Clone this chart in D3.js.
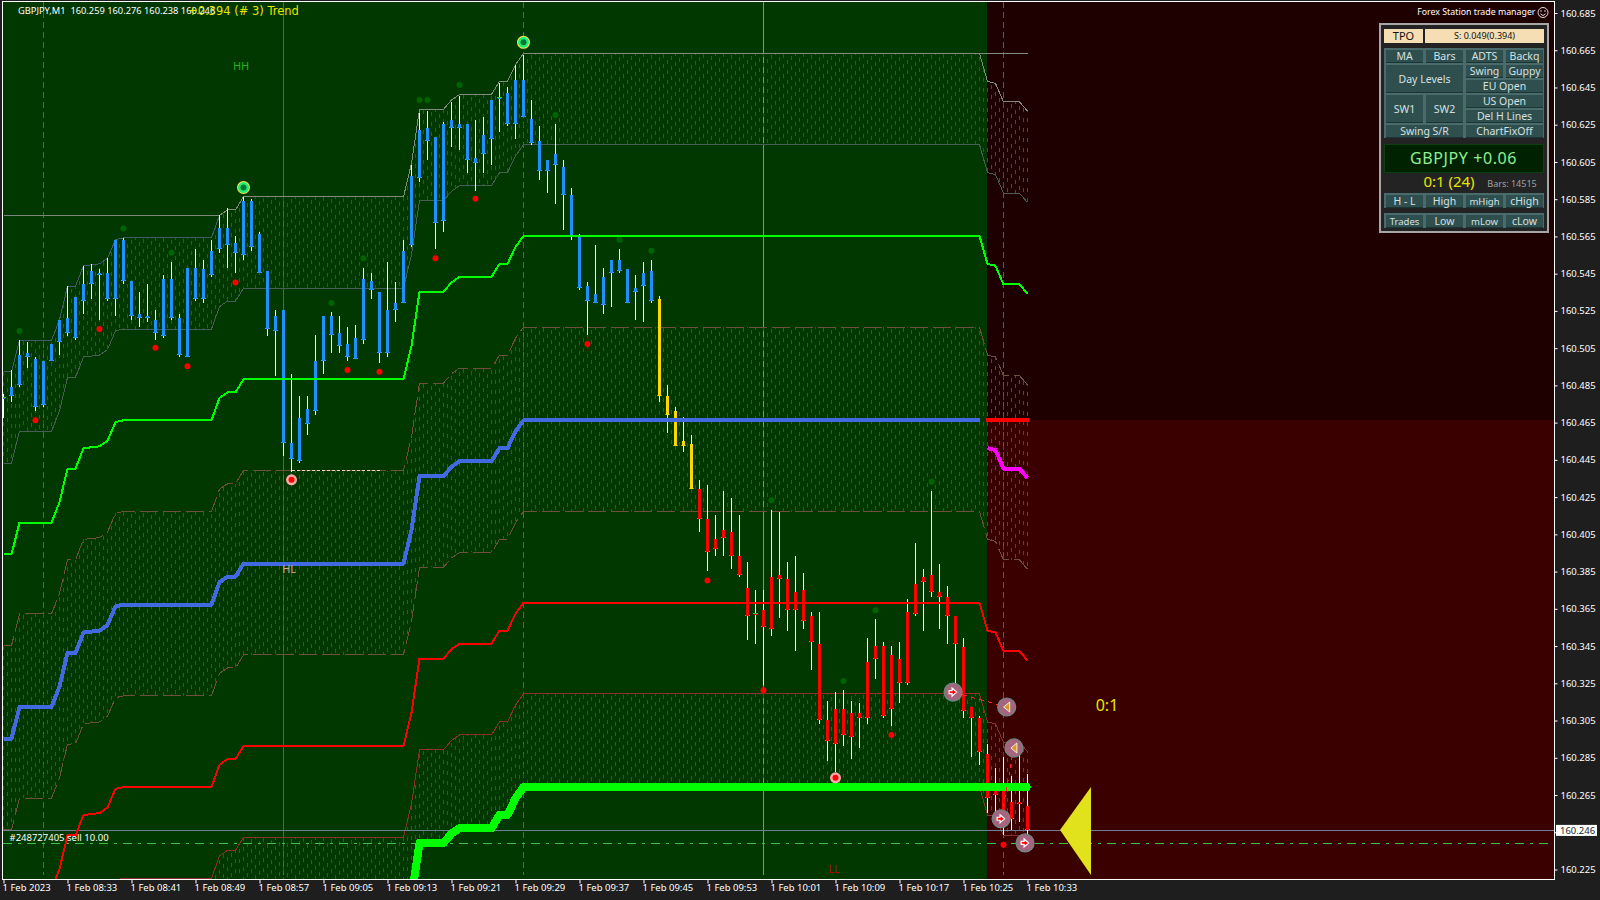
<!DOCTYPE html>
<html>
<head>
<meta charset="utf-8">
<title>GBPJPY,M1</title>
<script src="https://cdn.jsdelivr.net/npm/d3@7"></script>
<style>
    html, body { margin: 0; padding: 0; background: #1e1e1e; overflow: hidden; }
    text { font-family: "Noto Sans", sans-serif; }
</style>
</head>
<body>
<div id="chart"></div>
<script>
// all quotes are kept as thousandths above 160.000, so 466 means 160.466
const priceBase = 160;

const opens = [
    478,484,501,502,499,498,507,520,521,532,
    539,546,545,545,563,563,541,523,522,520,
    542,542,521,548,548,547,557,569,569,561,
    584,584,566,546,522,525,454,467,472,498,
    522,522,513,507,510,542,541,535,525,529,
    557,597,622,623,618,625,627,625,625,607,
    619,638,639,642,649,649,628,616,606,609,
    602,587,565,538,534,543,552,552,547,537,
    545,546,531,479,471,455,453,429,413,402,
    407,406,393,376,362,364,382,383,381,374,
    375,361,346,305,311,311,309,309,336,345,
    345,340,338,363,378,382,383,374,371,361,
    344,312,306,287,267,267,261,261,259];
const highs = [
    480,493,509,508,500,498,507,520,538,532,
    549,550,547,553,563,564,541,535,539,525,
    544,551,523,548,558,552,563,576,580,565,
    586,585,567,546,525,525,491,479,479,512,
    522,524,522,516,517,548,545,535,551,540,
    563,603,631,632,618,626,637,640,625,627,
    629,638,647,645,657,662,638,624,606,625,
    606,591,566,540,560,548,552,558,547,544,
    551,552,533,485,473,468,458,434,431,415,
    428,424,415,390,375,375,418,417,390,393,
    384,363,363,315,320,321,315,314,349,359,
    347,345,347,370,400,386,428,389,377,361,
    349,312,307,292,279,285,275,287,276];
const lows = [
    467,476,484,494,471,473,498,501,511,509,
    523,531,520,530,522,539,520,516,519,509,
    510,520,500,500,530,529,543,556,548,545,
    552,557,545,511,490,447,438,443,458,469,
    491,502,502,498,499,507,531,497,500,519,
    529,559,594,606,558,567,613,611,599,589,
    599,603,621,624,617,629,614,595,588,582,
    568,563,536,512,529,523,527,545,529,520,
    519,529,476,459,452,449,429,406,385,393,
    393,386,382,348,346,324,350,360,353,342,
    354,332,303,283,277,291,284,290,303,327,
    306,302,314,324,361,353,371,354,346,318,
    306,285,281,255,254,243,246,250,238];
const closes = [
    478,479,485,500,473,474,498,508,513,510,
    530,539,544,531,531,541,522,521,521,513,
    511,521,501,500,531,531,544,558,560,556,
    555,559,545,515,514,454,445,444,464,471,
    498,512,506,500,499,509,536,502,502,525,
    529,560,596,616,572,573,623,623,606,604,
    609,617,639,625,625,629,615,600,600,603,
    587,565,537,530,529,528,545,546,529,535,
    538,530,479,469,452,452,429,413,395,397,
    403,393,383,361,362,355,354,381,364,364,
    358,347,305,294,292,297,296,306,306,338,
    307,311,325,325,362,379,374,371,361,346,
    310,306,288,263,265,248,252,260,246];
const lastBlueBar = 81;
const lastYellowBar = 86;

// the step lines only change at these bars
const levelBars = [0,1,2,6,7,8,9,10,12,13,14,15,26,27,28,29,30,50,51,52,55,56,57,61,62,63,64,65,122,123,124,125,126,127,128];
const levelGrayTop = [492,492,509,509,520,538,538,549,550,553,563,564,564,576,579,579,586,586,604,633,633,638,641,641,648,648,657,663,663,648,647,637,637,637,632];
const levelGrayBottom = [443,443,460,460,471,489,489,500,501,504,514,515,515,527,530,530,537,537,555,584,584,589,592,592,599,599,608,614,614,599,598,588,588,588,583];
const levelGreen = [394,394,411,411,422,440,440,451,452,455,465,466,466,478,481,481,488,488,506,535,535,540,543,543,550,550,559,565,565,550,549,539,539,539,534];
const levelBrownTop = [345,345,362,362,373,391,391,402,403,406,416,417,417,429,432,432,439,439,457,486,486,491,494,494,501,501,510,516,516,501,500,490,490,490,485];
const levelMid = [295,295,312,312,323,341,341,352,353,356,366,367,367,379,382,382,389,389,407,436,436,441,444,444,451,451,460,466,466,451,450,440,440,440,435];
const levelBrownBottom = [246,246,263,263,274,292,292,303,304,307,317,318,318,330,333,333,340,340,358,387,387,392,395,395,402,402,411,417,417,402,401,391,391,391,386];
const levelRed = [197,197,214,214,225,243,243,254,255,258,268,269,269,281,284,284,291,291,309,338,338,343,346,346,353,353,362,368,368,353,352,342,342,342,337];
const levelRedTop = [148,148,165,165,176,194,194,205,206,209,219,220,220,232,235,235,242,242,260,289,289,294,297,297,304,304,313,319,319,304,303,293,293,293,288];
const levelLime = [98,98,115,115,126,144,144,155,156,159,169,170,170,182,185,185,192,192,210,239,239,244,247,247,254,254,263,269,269,254,253,243,243,243,238];

const highDotBars = [2,15,21,41,45,52,53,57,69,77,81,96,105,109,116];
const highDotPrices = [514,569,556,529,553,638,638,646,630,563,557,423,326,364,433];
const lowDotBars = [4,12,19,23,29,43,47,54,59,73,88,95,111,125];
const lowDotPrices = [466,515,505,495,540,493,492,553,585,507,380,321,297,238];

const swingHighBars = [30,65];
const swingHighPrices = [591,669];
const swingLowBars = [36,104];
const swingLowPrices = [434,274];

const tradeBars = [118.7,125.4,126.3,124.7,127.7];
const tradePrices = [320,312,290,252,239];
const tradeKinds = ["open","close","close","open","open"];

const swingLabels = ["HH","HL","LL"];
const swingLabelBars = [29.7,35.7,103.8];
const swingLabelPrices = [656,386,225];
const swingLabelColors = ["#22b322","#d8a890","#c80000"];

const periodBars = [5,35,65,95,125];
const periodColors = ["#3f6f55","#3f6f55","#3f6f55","#b8862b","#3f6464"];
const periodDashes = ["6 4",null,"6 4",null,"6 4"];

const priceTicks = [685,665,645,625,605,585,565,545,525,505,485,465,445,425,405,385,365,345,325,305,285,265,245,225];
const timeTickBars = [0,8,16,24,32,40,48,56,64,72,80,88,96,104,112,120,128];
const timeTickLabels = ["1 Feb 2023","1 Feb 08:33","1 Feb 08:41","1 Feb 08:49","1 Feb 08:57","1 Feb 09:05","1 Feb 09:13","1 Feb 09:21","1 Feb 09:29","1 Feb 09:37","1 Feb 09:45","1 Feb 09:53","1 Feb 10:01","1 Feb 10:09","1 Feb 10:17","1 Feb 10:25","1 Feb 10:33"];

const bidPrice = 246;
const sellPrice = 239;
const prevHigh = 576;
const swingLowLevel = 439;
const splitPrice = 466;

const width = 1600;
const height = 900;
const plot = { left: 3, right: 1554, top: 2, bottom: 879 };
const sessionEnd = 987;

const colors = {
    page: "#1e1e1e",
    session: "#003800",
    upper: "#1f0000",
    lower: "#3a0000",
    gray: "#31504f",
    brown: "#5a4630",
    red: "#8e2a2a",
};
const dashShift = [0,4,8,2,6,9,3,7,1,5];

const x = d3.scaleLinear().domain([0, 128]).range([3.5, 1027.5]);
const y = d3.scaleLinear().domain([225, 685]).range([869, 12.5]);

const svg = d3.select("#chart").append("svg")
    .attr("width", width)
    .attr("height", height)
    .style("display", "block");

svg.append("clipPath").attr("id", "plot-clip")
    .append("rect")
    .attr("x", plot.left).attr("y", plot.top)
    .attr("width", plot.right - plot.left).attr("height", plot.bottom - plot.top);

const gPlot = svg.append("g").attr("clip-path", "url(#plot-clip)");

// backgrounds
gPlot.append("rect").attr("x", plot.left).attr("y", plot.top).attr("width", plot.right - plot.left).attr("height", Math.round(y(splitPrice)) - plot.top).attr("fill", colors.upper);
gPlot.append("rect").attr("x", plot.left).attr("y", Math.round(y(splitPrice))).attr("width", plot.right - plot.left).attr("height", plot.bottom - Math.round(y(splitPrice))).attr("fill", colors.lower);
gPlot.append("rect").attr("x", plot.left).attr("y", plot.top).attr("width", sessionEnd - plot.left).attr("height", plot.bottom - plot.top).attr("fill", colors.session);

// half hour separators
gPlot.selectAll(".period-line")
    .data(periodBars)
    .enter()
    .append("line")
    .attr("class", "period-line")
    .attr("x1", d => x(d)).attr("x2", d => x(d))
    .attr("y1", plot.top).attr("y2", plot.bottom - 4)
    .attr("stroke", (_, i) => periodColors[i])
    .attr("stroke-dasharray", (_, i) => periodDashes[i])
    .attr("shape-rendering", "crispEdges");

function levelLine(bars, values, color, lineWidth, dash) {
    const line = d3.line().x((_, i) => x(bars[i])).y(d => y(d));
    return gPlot.append("path")
        .datum(values)
        .attr("d", line)
        .attr("fill", "none")
        .attr("stroke", color)
        .attr("stroke-width", lineWidth)
        .attr("stroke-dasharray", dash || null)
        .attr("stroke-linejoin", "round")
        .attr("shape-rendering", "crispEdges");
}

// the dotted zones: a dashed column on every bar and between bars
function levelBand(topValues, bottomValues, color, cls) {
    const topAt = d3.scaleLinear().domain(levelBars).range(topValues);
    const bottomAt = d3.scaleLinear().domain(levelBars).range(bottomValues);
    gPlot.selectAll("." + cls)
        .data(d3.range(0, 128.5, 0.5))
        .enter()
        .append("line")
        .attr("class", cls)
        .attr("x1", d => Math.floor(x(d)) + 0.5).attr("x2", d => Math.floor(x(d)) + 0.5)
        .attr("y1", d => y(topAt(d))).attr("y2", d => y(bottomAt(d)))
        .attr("stroke", color)
        .attr("stroke-dasharray", "4 6")
        .attr("stroke-dashoffset", d => dashShift[(d * 2) % dashShift.length])
        .attr("shape-rendering", "crispEdges");
}

levelBand(levelGrayTop, levelGrayBottom, colors.gray, "band-gray");
levelBand(levelBrownTop, levelBrownBottom, colors.brown, "band-brown");
levelBand(levelRedTop, levelLime, colors.red, "band-red");

// band outlines
levelLine(levelBars.slice(0, 14), levelGrayTop.slice(0, 14), "#46596a", 1);
levelLine(levelBars.slice(13), levelGrayTop.slice(13), "#808a80", 1);
levelLine([0, 27], [prevHigh, prevHigh], "#7c857c", 1);
levelLine([65, 128], [663, 663], "#808a80", 1);
levelLine(levelBars, levelGrayBottom, "#485c58", 1);
levelLine(levelBars, levelBrownTop, "#6d5040", 1, "18 5");
levelLine(levelBars, levelBrownBottom, "#6d5040", 1, "18 5");
levelLine(levelBars, levelRedTop, "#8b2f2f", 1);
levelLine(levelBars.slice(28), levelLime.slice(28), "#8b2f2f", 1);

levelLine([36, 47], [swingLowLevel, swingLowLevel], "#f0d4c4", 1, "3 2");

// bid and open trade lines
gPlot.append("line").attr("x1", plot.left).attr("x2", plot.right).attr("y1", Math.round(y(bidPrice)) + 0.5).attr("y2", Math.round(y(bidPrice)) + 0.5)
    .attr("stroke", "#708090").attr("shape-rendering", "crispEdges");
gPlot.append("line").attr("x1", plot.left).attr("x2", plot.right).attr("y1", Math.round(y(sellPrice)) + 0.5).attr("y2", Math.round(y(sellPrice)) + 0.5)
    .attr("stroke", "#3cc23c").attr("stroke-dasharray", "9 6 3 6").attr("shape-rendering", "crispEdges");

// candles
const candleColor = i => i <= lastBlueBar ? "#1e90ff" : i <= lastYellowBar ? "#ffd700" : "#ff0000";
const gCandles = gPlot.append("g").attr("shape-rendering", "crispEdges");

gCandles.selectAll(".wick")
    .data(opens)
    .enter()
    .append("rect")
    .attr("class", "wick")
    .attr("x", (_, i) => x(i) - 0.5)
    .attr("y", (_, i) => y(highs[i]))
    .attr("width", 1)
    .attr("height", (_, i) => y(lows[i]) - y(highs[i]))
    .attr("fill", "#fff");

gCandles.selectAll(".close-tick")
    .data(closes)
    .enter()
    .append("rect")
    .attr("class", "close-tick")
    .attr("x", (_, i) => x(i) - 2.5)
    .attr("y", d => y(d) - 1)
    .attr("width", 5)
    .attr("height", 1)
    .attr("fill", "#33cc33");

gCandles.selectAll(".body")
    .data(opens)
    .enter()
    .append("rect")
    .attr("class", "body")
    .attr("x", (_, i) => x(i) - 1.5)
    .attr("y", d => y(d))
    .attr("width", 3)
    .attr("height", (d, i) => Math.max(1, y(closes[i]) - y(d)))
    .attr("fill", (_, i) => candleColor(i));

// step levels on top of the candles
const solidBars = levelBars.slice(0, 29);
levelLine(levelBars, levelGreen, "#00ff00", 2);
levelLine(levelBars, levelRed, "#ff0000", 2);
levelLine(solidBars, levelMid.slice(0, 29), "#4169e1", 4);
levelLine(levelBars.slice(29), levelMid.slice(29), "#ff00ff", 4);
levelLine([122.8, 128.2], [splitPrice, splitPrice], "#ff0000", 4);
levelLine(solidBars.concat([127.9]), levelLime.slice(0, 29).concat([269]), "#00ff00", 8).attr("stroke-linecap", "round");

// swing dots
gPlot.selectAll(".high-dot")
    .data(highDotBars)
    .enter()
    .append("circle")
    .attr("class", "high-dot")
    .attr("cx", d => x(d))
    .attr("cy", (_, i) => y(highDotPrices[i]))
    .attr("r", 3)
    .attr("fill", "#006400");

gPlot.selectAll(".low-dot")
    .data(lowDotBars)
    .enter()
    .append("circle")
    .attr("class", "low-dot")
    .attr("cx", d => x(d))
    .attr("cy", (_, i) => y(lowDotPrices[i]))
    .attr("r", 3)
    .attr("fill", "#ff0000");

// ringed swing markers
swingHighBars.forEach((b, i) => {
    const g = gPlot.append("g").attr("transform", `translate(${x(b)},${y(swingHighPrices[i])})`);
    g.append("circle").attr("r", 6.5).attr("fill", "#ffe94a");
    g.append("circle").attr("r", 5.5).attr("fill", "#22ee77");
    g.append("circle").attr("r", 3).attr("fill", "#007a33");
});
swingLowBars.forEach((b, i) => {
    const g = gPlot.append("g").attr("transform", `translate(${x(b)},${y(swingLowPrices[i])})`);
    g.append("circle").attr("r", 5.5).attr("fill", "#ffa8a8");
    g.append("circle").attr("r", 3).attr("fill", "#ff0000");
});

// trade connectors and markers
levelLine([tradeBars[0], tradeBars[1]], [tradePrices[0], tradePrices[1]], "#ff2020", 1, "5 4");
levelLine([tradeBars[2], tradeBars[3]], [tradePrices[2], tradePrices[3]], "#ff2020", 1, "4 4");

tradeBars.forEach((b, i) => {
    const g = gPlot.append("g").attr("transform", `translate(${x(b)},${y(tradePrices[i])})`);
    g.append("circle").attr("r", 9).attr("fill", "#a5657f").attr("stroke", "#6b8b83").attr("stroke-width", 1.2);
    if (tradeKinds[i] === "open") {
        g.append("path").attr("d", "M-4,-1.5 L-1,-1.5 L-1,-4 L3.5,0 L-1,4 L-1,1.5 L-4,1.5 Z")
            .attr("fill", "#ff0000").attr("stroke", "#fff").attr("stroke-width", 1.2);
    } else {
        g.append("path").attr("d", "M3,-5 L3,5 L-3,0 Z")
            .attr("fill", "#d9962a").attr("stroke", "#f4f0e0").attr("stroke-width", 1);
    }
});

// sell arrow for the trend
gPlot.append("path")
    .attr("d", `M1060,${y(bidPrice)} L1091,787 L1091,875 Z`)
    .attr("fill", "#e2e21c");

// chart texts
gPlot.selectAll(".swing-label")
    .data(swingLabels)
    .enter()
    .append("text")
    .attr("class", "swing-label")
    .attr("x", (_, i) => x(swingLabelBars[i]))
    .attr("y", (_, i) => y(swingLabelPrices[i]))
    .attr("dy", "0.35em")
    .attr("text-anchor", "middle")
    .attr("font-size", 11)
    .attr("fill", (_, i) => swingLabelColors[i])
    .text(d => d);

svg.append("text").attr("x", 18).attr("y", 14).attr("font-size", 9.3).attr("fill", "#fff")
    .attr("xml:space", "preserve")
    .text("GBPJPY,M1  160.259 160.276 160.238 160.246");
svg.append("text").attr("x", 188).attr("y", 15).attr("font-size", 11.5).attr("fill", "#e6e600")
    .style("font-family", "DejaVu Sans")
    .text("+0.394 (# 3) Trend");
svg.append("text").attr("x", 9.5).attr("y", 841).attr("font-size", 9.5).attr("fill", "#fff")
    .text("#248727405 sell 10.00");
svg.append("text").attr("x", 1107).attr("y", 710.5).attr("text-anchor", "middle").attr("font-size", 16).attr("fill", "#e6e600")
    .text("0:1");

// frame and axes
svg.append("rect")
    .attr("x", 2.5).attr("y", 1.5)
    .attr("width", plot.right - 2).attr("height", plot.bottom - 1)
    .attr("fill", "none").attr("stroke", "#fff").attr("shape-rendering", "crispEdges");

const priceAxis = d3.axisRight(y)
    .tickValues(priceTicks)
    .tickSize(3)
    .tickPadding(3)
    .tickFormat(d => (priceBase + d / 1000).toFixed(3));
const gPriceAxis = svg.append("g")
    .attr("transform", `translate(${plot.right + 0.5},0.5)`)
    .attr("color", "#fff")
    .call(priceAxis);
gPriceAxis.select(".domain").remove();
gPriceAxis.selectAll("text").attr("font-size", 9.5).style("font-family", "\"Noto Sans\"");

const timeAxis = d3.axisBottom(x)
    .tickValues(timeTickBars)
    .tickSize(4)
    .tickPadding(1)
    .tickFormat((_, i) => timeTickLabels[i]);
const gTimeAxis = svg.append("g")
    .attr("transform", `translate(0,${plot.bottom + 0.5})`)
    .attr("color", "#fff")
    .call(timeAxis);
gTimeAxis.select(".domain").remove();
gTimeAxis.selectAll("text")
    .attr("text-anchor", "start")
    .attr("dx", -1.5)
    .attr("font-size", 9.5)
    .style("font-family", "\"Noto Sans\"");

// current price tag
svg.append("rect").attr("x", 1556).attr("y", y(bidPrice) - 5).attr("width", 41).attr("height", 11).attr("fill", "#fff");
svg.append("text").attr("x", 1560).attr("y", y(bidPrice) + 0.5).attr("dy", "0.35em").attr("font-size", 9.5).attr("fill", "#1e1e2e")
    .text((priceBase + bidPrice / 1000).toFixed(3));

// trade manager panel
const gPanel = svg.append("g").attr("class", "panel");

gPanel.append("text").attr("x", 1535.5).attr("y", 15).attr("text-anchor", "end").attr("font-size", 8.8).attr("fill", "#fff")
    .text("Forex Station trade manager");
gPanel.append("circle").attr("cx", 1543).attr("cy", 12.5).attr("r", 5).attr("fill", "none").attr("stroke", "#ddd");
gPanel.append("path").attr("d", "M1540.5,14 Q1543,17 1545.5,14").attr("fill", "none").attr("stroke", "#ddd");
gPanel.append("circle").attr("cx", 1541).attr("cy", 11).attr("r", 0.8).attr("fill", "#ddd");
gPanel.append("circle").attr("cx", 1545).attr("cy", 11).attr("r", 0.8).attr("fill", "#ddd");

gPanel.append("rect").attr("x", 1380).attr("y", 24).attr("width", 168).attr("height", 208)
    .attr("fill", "#232323").attr("stroke", "#a6a6a6").attr("stroke-width", 2).attr("shape-rendering", "crispEdges");

function panelBlock(bx, by, bw, bh, fill) {
    return gPanel.append("rect").attr("x", bx).attr("y", by).attr("width", bw).attr("height", bh)
        .attr("fill", fill).attr("shape-rendering", "crispEdges");
}

function panelButton(b) {
    panelBlock(b[0], b[1], b[2], b[3], "#2f4f4f");
    panelBlock(b[0], b[1] + b[3] - 1, b[2], 1, "#1c3434");
    gPanel.append("text")
        .attr("x", b[0] + b[2] / 2)
        .attr("y", b[1] + b[3] / 2)
        .attr("dy", "0.35em")
        .attr("text-anchor", "middle")
        .attr("font-size", b[5] || 10.5)
        .attr("fill", "#d6e0e0")
        .text(b[4]);
}

// wheat header row
panelBlock(1384, 29, 39, 14, "#f5deb3");
panelBlock(1425, 29, 119, 14, "#f5deb3");
gPanel.append("text").attr("x", 1403.5).attr("y", 36).attr("dy", "0.35em").attr("text-anchor", "middle").attr("font-size", 11).attr("fill", "#111").text("TPO");
gPanel.append("text").attr("x", 1484.5).attr("y", 36).attr("dy", "0.35em").attr("text-anchor", "middle").attr("font-size", 9).attr("fill", "#111").text("S: 0.049(0.394)");

// button backings
panelBlock(1384, 48, 160, 90, "#4a6b6b");
panelBlock(1384, 193, 160, 15, "#4a6b6b");
panelBlock(1384, 213, 160, 15, "#4a6b6b");

const buttonCols = [[1386, 37], [1426, 37], [1466, 37], [1506, 37]];
const panelButtons = [
    [buttonCols[0][0], 50, 37, 13, "MA"],
    [buttonCols[1][0], 50, 37, 13, "Bars"],
    [buttonCols[2][0], 50, 37, 13, "ADTS"],
    [buttonCols[3][0], 50, 37, 13, "Backq"],
    [1386, 65, 77, 28, "Day Levels"],
    [buttonCols[2][0], 65, 37, 13, "Swing"],
    [buttonCols[3][0], 65, 37, 13, "Guppy"],
    [1466, 80, 77, 13, "EU Open"],
    [buttonCols[0][0], 95, 37, 28, "SW1"],
    [buttonCols[1][0], 95, 37, 28, "SW2"],
    [1466, 95, 77, 13, "US Open"],
    [1466, 110, 77, 13, "Del H Lines"],
    [1386, 125, 77, 13, "Swing S/R"],
    [1466, 125, 77, 13, "ChartFixOff"],
    [buttonCols[0][0], 195, 37, 13, "H - L"],
    [buttonCols[1][0], 195, 37, 13, "High"],
    [buttonCols[2][0], 195, 37, 13, "mHigh", 9.5],
    [buttonCols[3][0], 195, 37, 13, "cHigh"],
    [buttonCols[0][0], 215, 37, 13, "Trades", 9.5],
    [buttonCols[1][0], 215, 37, 13, "Low"],
    [buttonCols[2][0], 215, 37, 13, "mLow", 9.5],
    [buttonCols[3][0], 215, 37, 13, "cLow"],
];
panelButtons.forEach(panelButton);

// balance display
gPanel.append("rect").attr("x", 1384.5).attr("y", 144.5).attr("width", 159).attr("height", 28)
    .attr("fill", "#002200").attr("stroke", "#0e3f0e").attr("shape-rendering", "crispEdges");
gPanel.append("text").attr("x", 1463.5).attr("y", 158.5).attr("dy", "0.35em").attr("text-anchor", "middle").attr("font-size", 16).attr("letter-spacing", 0.6).attr("fill", "#90ee90")
    .text("GBPJPY +0.06");
gPanel.append("text").attr("x", 1449).attr("y", 182).attr("dy", "0.35em").attr("text-anchor", "middle").attr("font-size", 15).attr("fill", "#e6e600")
    .text("0:1 (24)");
gPanel.append("text").attr("x", 1512).attr("y", 183.5).attr("dy", "0.35em").attr("text-anchor", "middle").attr("font-size", 9).attr("fill", "#a0a0a0")
    .text("Bars: 14515");
</script>
</body>
</html>
